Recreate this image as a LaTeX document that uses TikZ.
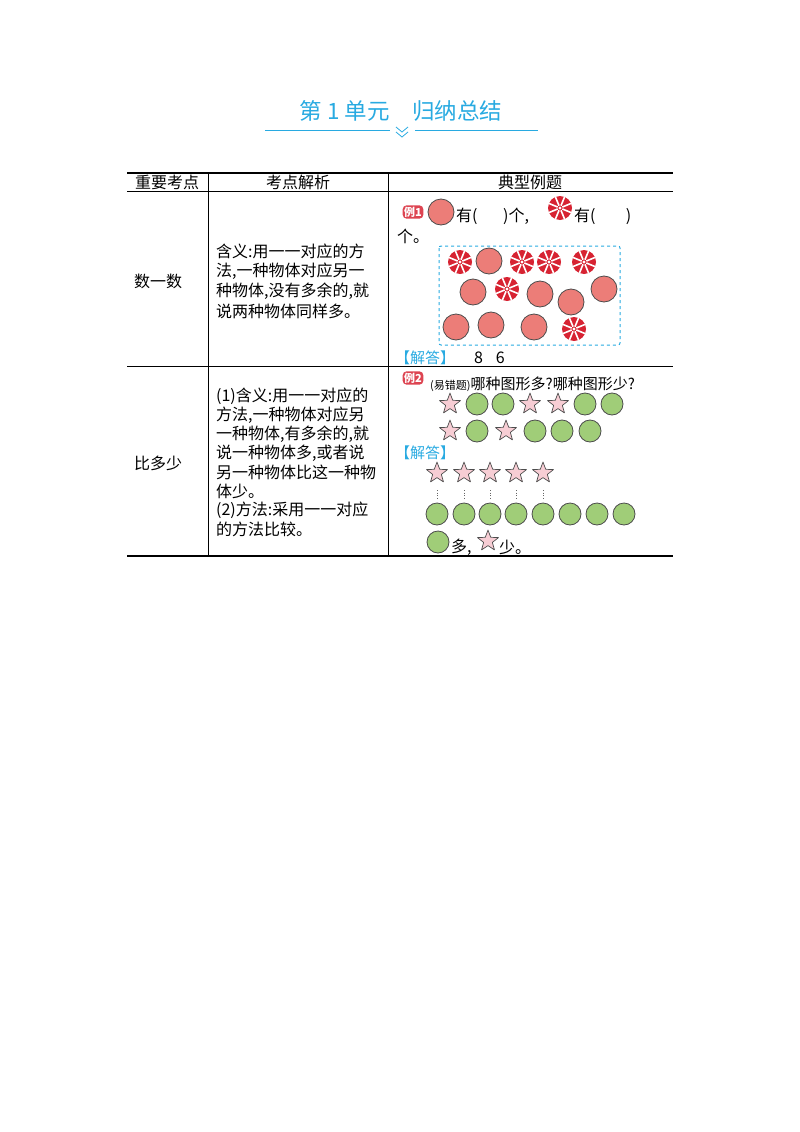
\documentclass[tikz,border=0pt]{standalone}
\usepackage{fontspec}
\setmainfont{Noto Sans CJK SC}
\usetikzlibrary{shapes,arrows,positioning}
\definecolor{titlecyan}{RGB}{40,170,225}
\definecolor{ballred}{RGB}{236,125,120}
\definecolor{burstred}{RGB}{215,35,50}
\definecolor{ballgreen}{RGB}{160,205,120}
\definecolor{starpink}{RGB}{247,205,212}
\tikzset{
  txt/.style={anchor=west,inner sep=0pt,font=\fontsize{16}{18}\selectfont},
  head/.style={inner sep=0pt,font=\fontsize{16}{18}\selectfont},
  badge/.style={fill=burstred!85,rounded corners=4pt,text=white,inner sep=1.5pt,font=\bfseries\fontsize{11}{12}\selectfont},
  answer/.style={anchor=west,inner sep=0pt,text=titlecyan,font=\fontsize{15}{17}\selectfont},
  ball/.pic={\draw[fill=ballred,draw=black!70,line width=0.8pt] (0,0) circle (13);},
  gball/.pic={\draw[fill=ballgreen,draw=black!70,line width=0.8pt] (0,0) circle (11);},
  burst/.pic={\fill[burstred] (0,0) circle (12);
    \foreach \a in {0,45,...,315} \draw[white,line width=1.6pt] (\a+22.5:2.5) -- (\a+22.5:12.5);
    \fill[white] (0,0) circle (1.6);},
  star/.pic={\draw[fill=starpink,draw=black!70,line width=0.7pt,line join=round]
    (-90:11) -- (-54:4.6) -- (-18:11) -- (18:4.6) -- (54:11) -- (90:4.6)
    -- (126:11) -- (162:4.6) -- (198:11) -- (234:4.6) -- cycle;}
}
\begin{document}
\begin{tikzpicture}[x=1pt,y=-1pt]
\useasboundingbox (0,0) rectangle (800,1132);
% title
\node[text=titlecyan,font=\fontsize{22.5}{26}\selectfont] (title) at (401,111) {第 1 单元\quad 归纳总结};
\draw[titlecyan,line width=0.8pt] (265,130) -- (390,130) (415,130) -- (538,130);
\draw[titlecyan,line width=0.8pt] (396,127) -- (402,132) -- (408,127) (396,132) -- (402,137) -- (408,132);
% table
\draw[line width=1.4pt] (127,173) -- (673,173) (127,556) -- (673,556);
\draw[line width=0.8pt] (127,191) -- (673,191) (127,366) -- (673,366);
\draw[line width=0.8pt] (208,173) -- (208,556) (388,173) -- (388,556);
\node[head] (h1) at (167,182) {重要考点};
\node[head] (h2) at (298,182) {考点解析};
\node[head] (h3) at (530,182) {典型例题};
\node[head] (k1) at (158,281) {数一数};
\node[head] (k2) at (158,463) {比多少};
\foreach \t [count=\i] in {含义:用一一对应的方,{法,一种物体对应另一},{种物体,没有多余的,就},说两种物体同样多。}
  \node[txt] (a\i) at (216,{231+20*\i}) {\t};
\foreach \t [count=\i] in {(1)含义:用一一对应的,{方法,一种物体对应另},{一种物体,有多余的,就},{说一种物体多,或者说},另一种物体比这一种物,体少。,(2)方法:采用一一对应,的方法比较。}
  \node[txt] (b\i) at (216,{377+19.1*\i}) {\t};
% example 1
\node[badge] (ex1) at (413,212) {例1};
\pic at (441,212) {ball};
\node[txt] (q1) at (456,216) {有(\hspace{1.6em})个,};
\pic at (560,208) {burst};
\node[txt] (q2) at (574,216) {有(\hspace{1.9em})};
\node[txt] (q3) at (397,236) {个。};
\draw[titlecyan,dashed,line width=1pt,rounded corners=2pt] (439,246) rectangle (620,345);
\foreach \x/\y in {489/261,473/292,540/294,571/302,604/289,456/327,491/325,534/327}
  \pic at (\x,\y) {ball};
\foreach \x/\y in {460/262,522/262,549/262,584/262,507/289,574/329}
  \pic at (\x,\y) {burst};
\node[answer] (ans1) at (395,358) {【解答】};
\node[txt] (v1) at (474,358) {8\hspace{0.8em}6};
% example 2
\node[badge] (ex2) at (413,378) {例2};
\node[txt,font=\fontsize{15}{17}\selectfont] (q4) at (430,384) {{\fontsize{11}{12}\selectfont (易错题)}哪种图形多?哪种图形少?};
\foreach \x in {450,530,558} \pic at (\x,404) {star};
\foreach \x in {477,503,585,612} \pic at (\x,404) {gball};
\foreach \x in {450,506} \pic at (\x,431) {star};
\foreach \x in {477,535,562,590} \pic at (\x,431) {gball};
\node[answer] (ans2) at (395,453) {【解答】};
\foreach \x in {437,464,490,516,543} {
  \pic at (\x,473) {star};
  \draw[black!60,line width=0.6pt,dotted] (\x,490) -- (\x,500);
}
\foreach \x in {437,464,490,516,543,570,597,624} \pic at (\x,514) {gball};
\pic at (438,542) {gball};
\node[txt] (m1) at (451,547) {多,};
\pic at (488,541) {star};
\node[txt] (m2) at (499,547) {少。};
\end{tikzpicture}
\end{document}
